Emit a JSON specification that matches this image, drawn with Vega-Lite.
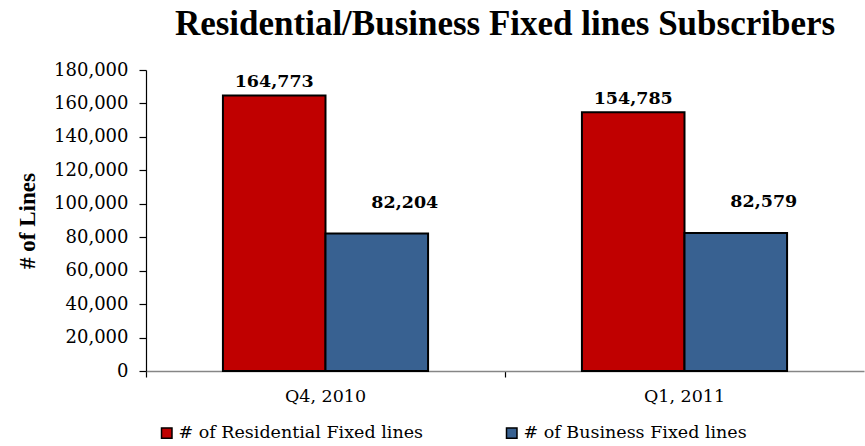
{
  "$schema": "https://vega.github.io/schema/vega-lite/v6.json",
  "autosize": {"type": "none"},
  "width": 718,
  "height": 301,
  "padding": {"left": 146, "top": 70, "right": 1, "bottom": 75},
  "background": "white",
  "title": {
    "text": "Residential/Business Fixed lines Subscribers",
    "font": "Liberation Serif",
    "fontSize": 35,
    "fontWeight": "bold",
    "color": "#000000",
    "anchor": "middle",
    "baseline": "alphabetic",
    "offset": -9
  },
  "config": {
    "view": {"stroke": null},
    "axis": {"grid": false}
  },
  "data": {
    "values": [
      {"quarter": "Q4, 2010", "series": "# of Residential Fixed lines", "value": 164773},
      {"quarter": "Q4, 2010", "series": "# of Business Fixed lines", "value": 82204},
      {"quarter": "Q1, 2011", "series": "# of Residential Fixed lines", "value": 154785},
      {"quarter": "Q1, 2011", "series": "# of Business Fixed lines", "value": 82579}
    ]
  },
  "encoding": {
    "x": {
      "field": "quarter",
      "type": "nominal",
      "sort": ["Q4, 2010", "Q1, 2011"],
      "scale": {"paddingInner": 0, "paddingOuter": 0},
      "axis": {
        "title": null,
        "labelAngle": 0,
        "labelFont": "DejaVu Serif",
        "labelFontSize": 17.5,
        "labelColor": "#000000",
        "labelPadding": 10,
        "domainColor": "#868686",
        "domainWidth": 1.5,
        "tickColor": "#000000",
        "tickSize": 6,
        "tickWidth": 1.2,
        "bandPosition": 0
      }
    },
    "xOffset": {
      "field": "series",
      "type": "nominal",
      "sort": ["# of Residential Fixed lines", "# of Business Fixed lines"],
      "scale": {"paddingOuter": 0.75, "paddingInner": 0}
    },
    "y": {
      "field": "value",
      "type": "quantitative",
      "scale": {"domain": [0, 180000], "nice": false},
      "axis": {
        "title": "# of Lines",
        "titleFont": "Liberation Serif",
        "titleFontSize": 23,
        "titleFontWeight": "bold",
        "titleColor": "#000000",
        "titlePadding": 14,
        "values": [0, 20000, 40000, 60000, 80000, 100000, 120000, 140000, 160000, 180000],
        "labelExpr": "format(datum.value, ',')",
        "labelFont": "DejaVu Serif",
        "labelFontSize": 18,
        "labelColor": "#000000",
        "labelPadding": 11,
        "domainColor": "#000000",
        "domainWidth": 1.2,
        "tickColor": "#000000",
        "tickSize": 7,
        "tickWidth": 1.2
      }
    }
  },
  "layer": [
    {
      "mark": {"type": "bar", "stroke": "#000000", "strokeWidth": 2},
      "encoding": {
        "color": {
          "field": "series",
          "type": "nominal",
          "sort": ["# of Residential Fixed lines", "# of Business Fixed lines"],
          "scale": {
            "domain": ["# of Residential Fixed lines", "# of Business Fixed lines"],
            "range": ["#C00000", "#386191"]
          },
          "legend": {
            "title": null,
            "orient": "none",
            "direction": "horizontal",
            "legendX": 12,
            "legendY": 354,
            "symbolType": "square",
            "symbolSize": 110,
            "symbolStrokeColor": "#000000",
            "symbolStrokeWidth": 1.5,
            "symbolOpacity": 1,
            "labelFont": "DejaVu Serif",
            "labelFontSize": 17.5,
            "labelColor": "#000000",
            "labelOffset": 3,
            "labelLimit": 400,
            "columnPadding": 80
          }
        }
      }
    },
    {
      "transform": [{"filter": "datum.series === '# of Residential Fixed lines'"}],
      "mark": {"type": "text", "font": "DejaVu Serif", "fontSize": 17.5, "fontWeight": "bold", "color": "#000000", "baseline": "alphabetic", "dy": -8},
      "encoding": {
        "text": {"field": "value", "type": "quantitative", "format": ","}
      }
    },
    {
      "transform": [{"filter": "datum.series === '# of Business Fixed lines'"}],
      "mark": {"type": "text", "font": "DejaVu Serif", "fontSize": 17.5, "fontWeight": "bold", "color": "#000000", "baseline": "alphabetic", "dx": 28, "dy": -26},
      "encoding": {
        "text": {"field": "value", "type": "quantitative", "format": ","}
      }
    }
  ]
}
